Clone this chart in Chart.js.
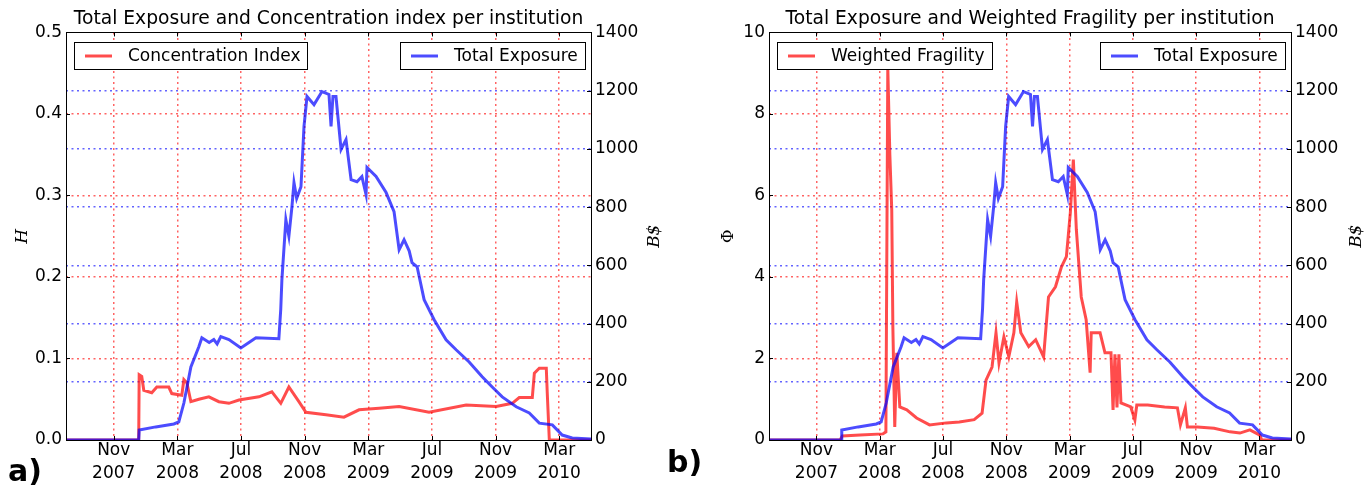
<!DOCTYPE html>
<html>
<head>
<meta charset="utf-8">
<script src="https://cdn.jsdelivr.net/npm/chart.js@4.4.1/dist/chart.umd.min.js"></script>
<style>
  html, body { margin: 0; padding: 0; background: #fff; overflow: hidden; }
  #wrap { position: relative; width: 1365px; height: 485px; }
  .panel { position: absolute; top: 0; height: 485px; }
  .tag { position: absolute; font: bold 30px "DejaVu Sans"; color: #000; line-height: 1; }
</style>
</head>
<body>
<div id="wrap">
  <div class="panel" style="left:0;width:680px"><canvas id="chartA"></canvas></div>
  <div class="panel" style="left:680px;width:685px"><canvas id="chartB"></canvas></div>
  <div class="tag" style="left:8px;top:456px">a)</div>
  <div class="tag" style="left:667px;top:447px">b)</div>
</div>
<script>
// x values are months counted from Jan 2007 (10 = Nov 2007)
const tickMonths = [10, 14, 18, 22, 26, 30, 34, 38];
const tickLabels = [
  ['Nov', '2007'], ['Mar', '2008'], ['Jul', '2008'], ['Nov', '2008'],
  ['Mar', '2009'], ['Jul', '2009'], ['Nov', '2009'], ['Mar', '2010']
];

// Total Exposure (B$)
const exposureMonths = [7, 11.57, 11.6, 12.64, 13.78, 14.09, 14.41, 14.85, 15.35, 15.54, 16.0, 16.29, 16.5, 16.73, 17.24, 17.99, 18.5, 18.94,
  20.38, 20.5, 20.57, 20.82, 21.01, 21.2, 21.33, 21.5, 21.77, 21.96, 22.15, 22.59, 23.09, 23.53, 23.66, 23.78, 23.97, 24.29,
  24.6, 24.92, 25.29, 25.6, 25.86, 25.92, 26.49, 27.12, 27.62, 27.94, 28.25, 28.57, 28.75, 29.07, 29.51, 30.14, 30.89, 31.52,
  32.34, 33.16, 33.79, 34.42, 35.3, 36.12, 36.75, 37.57, 38.19, 38.82, 40];
const exposureValues = [0, 0, 34, 45, 55, 62, 127, 251, 320, 351, 335, 345, 330, 355, 345, 316, 335, 351,
  348, 450, 550, 757, 700, 800, 884, 830, 870, 1077, 1180, 1152, 1197, 1187, 1077, 1180, 1180, 998,
  1032, 894, 887, 905, 843, 936, 905, 850, 784, 654, 688, 650, 609, 595, 482, 413, 344, 310,
  268, 217, 182, 148, 114, 93, 58, 52, 17, 7, 3];

// Concentration Index H
const concMonths = [7, 11.57, 11.6, 11.76, 11.89, 12.39, 12.71, 13.46, 13.65, 14.28, 14.41, 14.6, 14.85, 15.35, 15.98, 16.61,
  17.24, 17.87, 19.13, 19.94, 20.5, 21.01, 21.64, 22.08, 23.34, 24.47, 25.42, 26.68, 27.94, 29.82, 32.15, 34.04, 35.05,
  35.49, 36.31, 36.44, 36.75, 37.19, 37.25, 37.38, 40];
const concValues = [0, 0, 0.080, 0.078, 0.061, 0.058, 0.065, 0.065, 0.057, 0.055, 0.074, 0.070, 0.047, 0.050, 0.053, 0.047,
  0.045, 0.049, 0.053, 0.059, 0.045, 0.065, 0.047, 0.034, 0.031, 0.028, 0.037, 0.039, 0.041, 0.034, 0.043, 0.041, 0.045,
  0.052, 0.052, 0.082, 0.088, 0.088, 0.058, 0, 0];

// Weighted Fragility Phi
const fragMonths = [7, 11.5, 11.63, 12.76, 14.2, 14.39, 14.51, 14.64, 14.76, 14.83, 14.95, 15.08, 15.27, 15.71, 16.33, 17.15,
  18.21, 19.03, 19.97, 20.47, 20.72, 21.1, 21.35, 21.54, 21.85, 22.16, 22.48, 22.66, 22.92, 23.42, 23.86, 24.36, 24.67,
  25.11, 25.49, 25.8, 26.05, 26.24, 26.43, 26.74, 27.05, 27.3, 27.37, 27.93, 28.24, 28.62, 28.75, 28.87, 29.0, 29.12,
  29.25, 29.87, 30.13, 30.25, 30.94, 32.01, 32.82, 33.01, 33.32, 33.45, 34.08, 35.14, 36.14, 36.77, 37.4, 38.03, 38.15, 40];
const fragValues = [0, 0, 0.1, 0.12, 0.15, 0.2, 9.14, 7.0, 5.65, 2.78, 0.32, 2.14, 0.81, 0.74, 0.54, 0.37,
  0.42, 0.44, 0.5, 0.66, 1.47, 1.79, 2.63, 1.89, 2.53, 2.04, 2.63, 3.39, 2.63, 2.29, 2.46, 2.04, 3.51,
  3.76, 4.25, 4.5, 5.58, 6.88, 5.16, 3.51, 2.95, 1.65, 2.63, 2.63, 2.14, 2.14, 0.74, 2.1, 0.8, 2.1,
  0.91, 0.81, 0.49, 0.86, 0.86, 0.81, 0.79, 0.37, 0.79, 0.32, 0.32, 0.29, 0.2, 0.17, 0.25, 0.12, 0, 0];

const redColor = 'rgba(255, 0, 0, 0.7)',
  blueColor = 'rgba(0, 0, 255, 0.7)',
  redGrid = 'rgba(255, 60, 60, 0.8)',
  blueGrid = 'rgba(60, 60, 255, 0.8)',
  gridDash = [2, 3.5],
  fontFamily = '"DejaVu Sans", sans-serif',
  tickFont = { family: fontFamily, size: 17 };

function toPoints(xs, ys) {
  return xs.map(function (x, i) { return { x: x, y: ys[i] }; });
}

// grid colour that hides the lines lying on the frame
function gridColor(color, min, max) {
  return function (c) {
    if (c.tick && (c.tick.value <= min || c.tick.value >= max)) return 'rgba(0,0,0,0)';
    return color;
  };
}

// frame, inward ticks, boxed legends and right axis label, drawn like matplotlib does
const panelExtras = {
  id: 'panelExtras',
  afterDraw(chart, args, opts) {
    const ctx = chart.ctx, a = chart.chartArea;
    ctx.save();
    ctx.strokeStyle = '#000';
    ctx.lineWidth = 1;
    // small ticks pointing inside
    chart.scales.x.ticks.forEach(function (t) {
      const px = Math.round(chart.scales.x.getPixelForValue(t.value)) + 0.5;
      ctx.beginPath();
      ctx.moveTo(px, a.bottom); ctx.lineTo(px, a.bottom - 4);
      ctx.moveTo(px, a.top); ctx.lineTo(px, a.top + 4);
      ctx.stroke();
    });
    chart.scales.y.ticks.forEach(function (t) {
      const py = Math.round(chart.scales.y.getPixelForValue(t.value)) + 0.5;
      ctx.beginPath(); ctx.moveTo(a.left, py); ctx.lineTo(a.left + 4, py); ctx.stroke();
    });
    chart.scales.y2.ticks.forEach(function (t) {
      const py = Math.round(chart.scales.y2.getPixelForValue(t.value)) + 0.5;
      ctx.beginPath(); ctx.moveTo(a.right, py); ctx.lineTo(a.right - 4, py); ctx.stroke();
    });
    ctx.strokeRect(Math.round(a.left) + 0.5, Math.round(a.top) + 0.5, Math.round(a.width), Math.round(a.height));

    // legends: first dataset on the left, second on the right
    ctx.font = '17px ' + fontFamily;
    ctx.textBaseline = 'middle';
    ctx.textAlign = 'left';
    chart.data.datasets.forEach(function (ds, i) {
      const tw = ctx.measureText(ds.label).width;
      const w = Math.round(11 + 27 + 16 + tw + 7), h = 27;
      const x = Math.round(i === 0 ? a.left + 8 : a.right - 6 - w);
      const y = Math.round(a.top + 10);
      ctx.fillStyle = '#fff';
      ctx.fillRect(x, y, w, h);
      ctx.strokeStyle = '#000';
      ctx.lineWidth = 1;
      ctx.strokeRect(x + 0.5, y + 0.5, w, h);
      ctx.strokeStyle = ds.borderColor;
      ctx.lineWidth = 3;
      ctx.beginPath(); ctx.moveTo(x + 11, y + h / 2 + 0.5); ctx.lineTo(x + 38, y + h / 2 + 0.5); ctx.stroke();
      ctx.fillStyle = '#000';
      ctx.fillText(ds.label, x + 54, y + h / 2 + 1);
    });

    // right axis label, reading bottom to top
    ctx.font = 'italic 17px "DejaVu Serif", serif';
    ctx.textAlign = 'center';
    ctx.translate(opts.rightTitleX, (a.top + a.bottom) / 2);
    ctx.rotate(-Math.PI / 2);
    ctx.fillText(opts.rightTitle, 0, 0);
    ctx.restore();
  }
};

function buildChart(canvasId, cfg) {
  return new Chart(document.getElementById(canvasId), {
    type: 'line',
    data: {
      datasets: [
        {
          label: cfg.redLabel,
          data: toPoints(cfg.redMonths, cfg.redValues),
          yAxisID: 'y',
          borderColor: redColor,
          borderWidth: 3,
          pointRadius: 0,
          tension: 0,
          order: 1
        },
        {
          label: 'Total Exposure',
          data: toPoints(exposureMonths, exposureValues),
          yAxisID: 'y2',
          borderColor: blueColor,
          borderWidth: 3,
          pointRadius: 0,
          tension: 0,
          order: 0
        }
      ]
    },
    options: {
      responsive: true,
      maintainAspectRatio: false,
      animation: false,
      layout: { padding: 0 },
      plugins: {
        legend: { display: false },
        tooltip: { enabled: false },
        title: {
          display: true,
          text: cfg.title,
          fullSize: false,
          color: '#000',
          font: { family: fontFamily, size: 18.7, weight: 'normal', lineHeight: 1.2 },
          padding: { top: 8, bottom: 2 }
        },
        panelExtras: { rightTitle: 'B$', rightTitleX: cfg.rightTitleX }
      },
      scales: {
        x: {
          type: 'linear',
          min: 7,
          max: 40,
          afterBuildTicks: function (axis) {
            axis.ticks = tickMonths.map(function (v) { return { value: v }; });
          },
          afterFit: function (axis) { axis.height = 45; },
          grid: { color: redGrid, lineWidth: 1.5, drawTicks: false },
          border: { display: false, dash: gridDash },
          ticks: {
            autoSkip: false,
            maxRotation: 0,
            padding: 0,
            color: '#000',
            font: { family: fontFamily, size: 17, lineHeight: 1.3 },
            callback: function (value) { return tickLabels[tickMonths.indexOf(value)]; }
          }
        },
        y: {
          position: 'left',
          min: 0,
          max: cfg.leftMax,
          afterFit: function (axis) { axis.width = cfg.leftWidth; },
          grid: { color: gridColor(redGrid, 0, cfg.leftMax - 1e-9), lineWidth: 1.5, drawTicks: false },
          border: { display: false, dash: gridDash },
          title: {
            display: true,
            text: cfg.leftTitle,
            color: '#000',
            font: { family: '"DejaVu Serif", serif', size: 17, style: cfg.leftTitleStyle },
            padding: { top: cfg.leftTitlePad, bottom: 0 }
          },
          ticks: {
            stepSize: cfg.leftStep,
            padding: 4,
            color: '#000',
            font: tickFont,
            callback: cfg.leftFormat
          }
        },
        y2: {
          position: 'right',
          min: 0,
          max: 1400,
          afterFit: function (axis) { axis.width = cfg.rightWidth; },
          grid: { color: gridColor(blueGrid, 0, 1400), lineWidth: 1.5, drawTicks: false },
          border: { display: false, dash: gridDash },
          ticks: {
            stepSize: 200,
            padding: 4,
            color: '#000',
            font: tickFont,
            callback: function (v) { return String(Math.round(v)); }
          }
        }
      }
    },
    plugins: [panelExtras]
  });
}

buildChart('chartA', {
  title: 'Total Exposure and Concentration index per institution',
  redLabel: 'Concentration Index',
  redMonths: concMonths,
  redValues: concValues,
  leftMax: 0.5,
  leftStep: 0.1,
  leftFormat: function (v) { return v.toFixed(1); },
  leftTitle: 'H',
  leftTitleStyle: 'italic',
  leftTitlePad: 12,
  leftWidth: 66,
  rightWidth: 89,
  rightTitleX: 655
});

buildChart('chartB', {
  title: 'Total Exposure and Weighted Fragility per institution',
  redLabel: 'Weighted Fragility',
  redMonths: fragMonths,
  redValues: fragValues,
  leftMax: 10,
  leftStep: 2,
  leftFormat: function (v) { return String(Math.round(v)); },
  leftTitle: 'Φ',
  leftTitleStyle: 'normal',
  leftTitlePad: 38,
  leftWidth: 89,
  rightWidth: 74,
  rightTitleX: 677
});
</script>
</body>
</html>
